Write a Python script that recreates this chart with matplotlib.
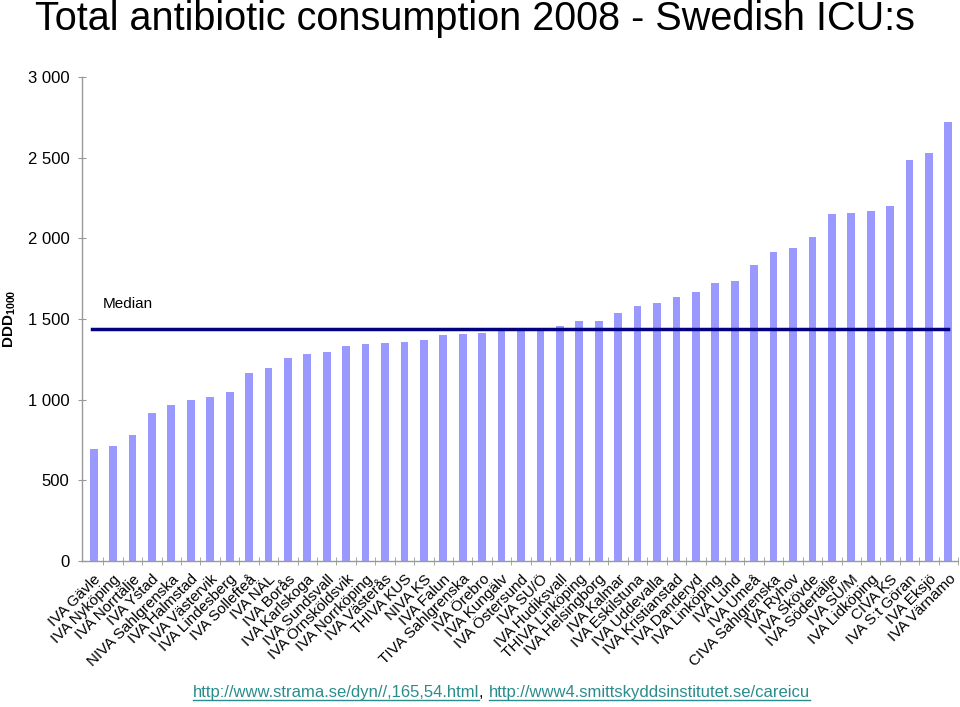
import numpy as np
import matplotlib
matplotlib.use("Agg")
from matplotlib import pyplot as plt
from matplotlib.lines import Line2D

plt.rcParams['font.family'] = ['Liberation Sans', 'DejaVu Sans']
plt.rcParams['mathtext.fontset'] = 'custom'
plt.rcParams['mathtext.rm'] = 'Liberation Sans'
plt.rcParams['mathtext.bf'] = 'Liberation Sans:bold'

# ICU names, sorted by consumption
units = ['IVA Gävle', 'IVA Nyköping', 'IVA Norrtälje', 'IVA Ystad', 'NIVA Sahlgrenska',
         'IVA Halmstad', 'IVA Västervik', 'IVA Lindesberg', 'IVA Sollefteå', 'IVA NÄL',
         'IVA Borås', 'IVA Karlskoga', 'IVA Sundsvall', 'IVA Örnsköldsvik', 'IVA Norrköping',
         'IVA Västerås', 'THIVA KUS', 'NIVA KS', 'IVA Falun', 'TIVA Sahlgrenska',
         'IVA Örebro', 'IVA Kungälv', 'IVA Östersund', 'IVA SU/Ö', 'IVA Hudiksvall',
         'THIVA Linköping', 'IVA Helsingborg', 'IVA Kalmar', 'IVA Eskilstuna', 'IVA Uddevalla',
         'IVA Kristianstad', 'IVA Danderyd', 'IVA Linköping', 'IVA Lund', 'IVA Umeå',
         'CIVA Sahlgrenska', 'IVA Ryhov', 'IVA Skövde', 'IVA Södertälje', 'IVA SU/M',
         'IVA Lidköping', 'CIVA KS', 'IVA S:t Göran', 'IVA Eksjö', 'IVA Värnamo']

# DDD per 1000 occupied bed days
ddd = [695, 710, 780, 915, 967, 998, 1015, 1046, 1166, 1199,
       1261, 1286, 1298, 1331, 1345, 1352, 1358, 1372, 1399, 1405,
       1412, 1436, 1440, 1441, 1457, 1486, 1487, 1538, 1583, 1597,
       1637, 1670, 1724, 1736, 1837, 1916, 1943, 2009, 2154, 2160,
       2168, 2201, 2486, 2527, 2724]

median = np.median(ddd)

yticks = [0, 500, 1000, 1500, 2000, 2500, 3000]
ytick_labels = ['0', '500', '1 000', '1 500', '2 000', '2 500', '3 000']

fig = plt.figure(figsize=(9.6, 7.07), dpi=100)
ax = fig.add_axes([0.0854, 0.2065, 0.9126, 0.6845])

x = np.arange(len(units))
ax.bar(x, ddd, width=0.4, color='#9999FF', zorder=2)
ax.plot([-0.1, len(units) - 1], [median, median], color='#000080', lw=2.5, zorder=3)
ax.text(0.45, median + 110, 'Median', fontsize=11, ha='left', va='bottom')

ax.set_xlim(-0.6, 44.45)
ax.set_ylim(0, 3000)
ax.set_yticks(yticks)
ax.set_yticklabels(ytick_labels, fontsize=12)
ax.set_xticks(x)
ax.set_xticklabels(units, rotation=45, ha='right', rotation_mode='anchor', fontsize=11)
ax.set_xticks(np.arange(len(units)) + 0.5, minor=True)
ax.tick_params(axis='x', which='major', length=0, pad=8)
ax.tick_params(axis='x', which='minor', length=6, direction='inout', color='#999999')
ax.tick_params(axis='y', length=6, direction='inout', color='#999999', pad=6)

for s in ['top', 'right']:
    ax.spines[s].set_visible(False)
for s in ['left', 'bottom']:
    ax.spines[s].set_color('#999999')
    ax.spines[s].set_linewidth(1)

ax.set_ylabel(r'$\mathbf{DDD_{1000}}$', fontsize=11)
ax.yaxis.set_label_coords(-0.0735, 0.5)

fig.text(0.495, 1 - 30 / 707, 'Total antibiotic consumption 2008 - Swedish ICU:s',
         fontsize=28.5, ha='center', va='baseline')

# footer with two underlined links
link_col = '#2A8C8C'
fig.canvas.draw()
r = fig.canvas.get_renderer()
xpos = 193
ypos = 707 - 697
parts = [('http://www.strama.se/dyn//,165,54.html', link_col, True),
         (', ', 'black', False),
         ('http://www4.smittskyddsinstitutet.se/careicu', link_col, True)]
for txt, col, under in parts:
    t = fig.text(xpos / 960, ypos / 707, txt, fontsize=12, color=col,
                 ha='left', va='baseline')
    bb = t.get_window_extent(r)
    if under:
        fig.add_artist(Line2D([bb.x0 / 960, bb.x1 / 960],
                              [(ypos - 2.5) / 707, (ypos - 2.5) / 707],
                              color=col, lw=1, transform=fig.transFigure))
    xpos = bb.x1

fig.savefig('out.png', dpi=100)
